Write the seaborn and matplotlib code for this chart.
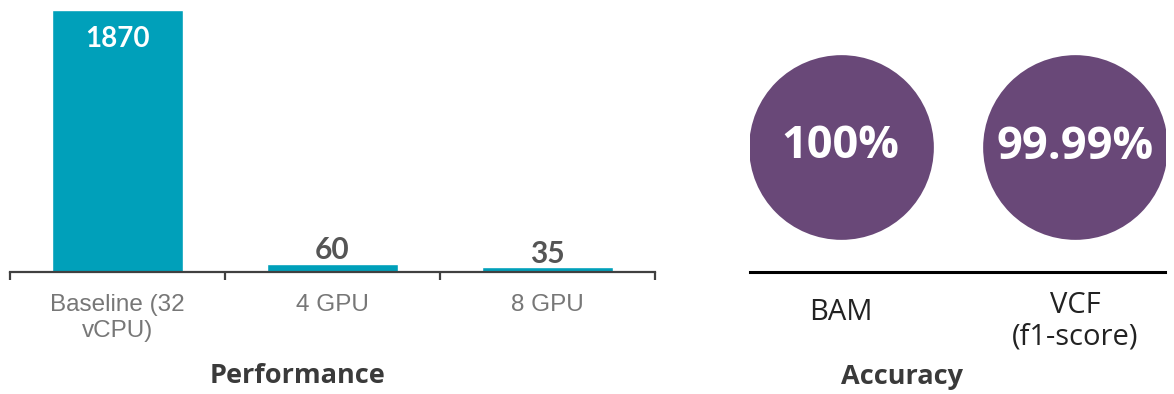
import matplotlib
matplotlib.use("Agg")
import matplotlib.pyplot as plt
import matplotlib.transforms as mtransforms
import pandas as pd
import seaborn as sns

# data
perf_labels = ["Baseline (32\nvCPU)", "4 GPU", "8 GPU"]
perf_values = [1870, 60, 35]
acc_labels = ["BAM", "VCF\n(f1-score)"]
acc_values = [100.0, 99.99]
acc_text = ["100%", "99.99%"]

BAR_COLOR = "#00A0BA"
CIRCLE_COLOR = "#694878"

sns.set_theme(style="white")
plt.rcParams["font.family"] = ["Open Sans", "DejaVu Sans"]

fig = plt.figure(figsize=(11.74, 3.94), dpi=100)
W, H = 1174, 394

# ─── Performance bars ─────────────────────────────────────────────────────────
ax1 = fig.add_axes([10 / W, (H - 272) / H, 645 / W, 262 / H])
perf_df = pd.DataFrame({"config": perf_labels, "time": perf_values})
sns.barplot(data=perf_df, x="config", y="time", color=BAR_COLOR,
            saturation=1, width=0.61, ax=ax1)
ax1.set_xlim(-0.5, 2.5)
ax1.set_ylim(0, max(perf_values))
ax1.set_xlabel(""); ax1.set_ylabel("")
ax1.set_yticks([])
sns.despine(ax=ax1, left=True)
ax1.spines["bottom"].set_color("#404040")
ax1.spines["bottom"].set_linewidth(1.6)
ax1.set_xticks([-0.5, 0.5, 1.5, 2.5], minor=True)
ax1.tick_params(axis="x", which="minor", bottom=True, length=6, width=1.6,
                color="#404040")
ax1.tick_params(axis="x", which="major", length=0, pad=16)
for lab in ax1.get_xticklabels():
    lab.set_fontfamily(["Liberation Sans", "DejaVu Sans"])
    lab.set_fontsize(17.5)
    lab.set_color("#777777")

for i, v in enumerate(perf_values):
    if i == 0:
        ax1.annotate(str(v), (i, v), xytext=(0, -21), textcoords="offset points",
                     ha="center", va="center", color="white",
                     fontsize=20, fontweight="bold", family=["Lato", "DejaVu Sans"])
    else:
        ax1.annotate(str(v), (i, v), xytext=(0, 3), textcoords="offset points",
                     ha="center", va="baseline", color="#555555",
                     fontsize=21.5, fontweight="bold", family=["Lato", "DejaVu Sans"])

fig.text(298 / W, 1 - 376 / H, "Performance", ha="center", va="center",
         fontsize=19.5, fontweight="bold", color="#3a3a3a")

# ─── Accuracy circles ─────────────────────────────────────────────────────────
ax2 = fig.add_axes([750 / W, (H - 272) / H, 415 / W, 262 / H])
acc_df = pd.DataFrame({"file": acc_labels, "acc": acc_values})
sns.scatterplot(data=acc_df, x="file", y="acc", color=CIRCLE_COLOR,
                s=133 ** 2, linewidth=0, ax=ax2, legend=False)
ax2.set_xlim(-0.386, 1.384)
ax2.set_ylim(0, 100 * 262 / 125)
ax2.set_xlabel(""); ax2.set_ylabel("")
ax2.set_yticks([])
ax2.set_xticklabels([])
sns.despine(ax=ax2, left=True)
ax2.spines["bottom"].set_color("black")
ax2.spines["bottom"].set_linewidth(2.2)
ax2.tick_params(axis="x", length=0)

trans = mtransforms.blended_transform_factory(ax2.transData, fig.transFigure)
for i, lab in enumerate(acc_labels):
    y_px = 312 if "\n" not in lab else 321
    ax2.text(i, 1 - y_px / H, lab, transform=trans, ha="center", va="center",
             fontsize=21, color="#222222", linespacing=1.1)

for i, (v, t) in enumerate(zip(acc_values, acc_text)):
    ax2.text(i, v, t, ha="center", va="center", color="white",
             fontsize=32.5, fontweight="bold")

fig.text(902 / W, 1 - 377 / H, "Accuracy", ha="center", va="center",
         fontsize=19.5, fontweight="bold", color="#3a3a3a")

fig.savefig("out.png", dpi=100)
